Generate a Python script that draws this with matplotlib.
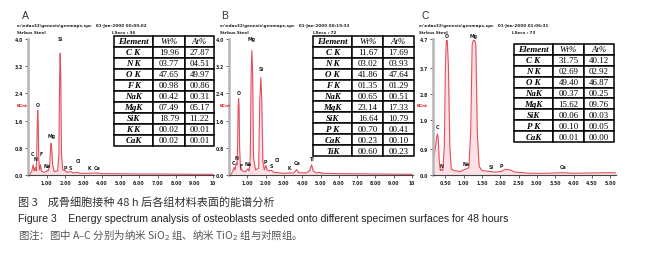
import matplotlib
matplotlib.use('Agg')
import matplotlib.pyplot as plt

W, H = 670, 255

# ---- spectrum data (keV, KCnt) ----
a_e = [0.10, 0.20, 0.277, 0.33, 0.39, 0.44, 0.47, 0.50, 0.525, 0.55, 0.58, 0.62, 0.677, 0.72, 0.85,
       1.00, 1.04, 1.10, 1.18, 1.22, 1.25, 1.28, 1.33, 1.42, 1.60, 1.67, 1.71, 1.74, 1.77, 1.81, 1.88,
       2.01, 2.10, 2.31, 2.45, 2.62, 2.80, 3.31, 3.69, 4.0, 5.0, 6.0, 7.0, 8.0, 9.0, 10.0]
a_c = [0.02, 0.10, 0.30, 0.12, 0.22, 0.12, 0.50, 1.50, 1.90, 1.50, 0.50, 0.15, 0.30, 0.12, 0.08,
       0.10, 0.14, 0.12, 0.35, 0.80, 0.93, 0.80, 0.30, 0.10, 0.12, 0.60, 2.90, 3.58, 2.90, 0.60, 0.15,
       0.12, 0.08, 0.10, 0.06, 0.08, 0.05, 0.05, 0.06, 0.04, 0.035, 0.03, 0.03, 0.025, 0.02, 0.02]

b_e = [0.10, 0.20, 0.277, 0.33, 0.39, 0.44, 0.47, 0.50, 0.525, 0.55, 0.58, 0.63, 0.677, 0.73, 0.90,
       1.04, 1.10, 1.16, 1.21, 1.25, 1.29, 1.34, 1.45, 1.62, 1.68, 1.74, 1.79, 1.85, 1.93, 2.01, 2.08,
       2.15, 2.31, 2.45, 2.62, 3.00, 3.31, 3.55, 3.69, 3.80, 4.20, 4.40, 4.51, 4.60, 4.75, 4.93, 5.10,
       6.0, 7.0, 8.0, 9.0, 10.0]
b_c = [0.02, 0.10, 0.22, 0.15, 0.35, 0.30, 0.90, 2.00, 2.25, 2.00, 0.80, 0.15, 0.20, 0.12, 0.10,
       0.18, 0.12, 0.50, 3.00, 3.66, 3.00, 0.50, 0.15, 0.20, 2.20, 2.87, 2.20, 0.40, 0.15, 0.28, 0.15,
       0.12, 0.14, 0.08, 0.07, 0.05, 0.06, 0.06, 0.16, 0.07, 0.06, 0.12, 0.30, 0.12, 0.06, 0.08, 0.05,
       0.04, 0.035, 0.03, 0.025, 0.02]

c_e = [0.16, 0.22, 0.26, 0.28, 0.30, 0.33, 0.36, 0.39, 0.43, 0.47, 0.50, 0.525, 0.55, 0.58, 0.62, 0.66,
       0.75, 0.90, 1.04, 1.08, 1.14, 1.19, 1.23, 1.26, 1.30, 1.33, 1.37, 1.42, 1.50, 1.74, 1.85, 2.01,
       2.15, 2.25, 2.40, 2.80, 3.30, 3.69, 4.00, 4.50, 5.00, 5.15]
c_c = [0.50, 0.90, 1.30, 1.42, 1.30, 0.50, 0.15, 0.20, 0.15, 1.00, 3.80, 4.65, 4.65, 3.80, 1.00, 0.20,
       0.15, 0.12, 0.20, 0.22, 0.25, 1.50, 4.50, 4.65, 4.65, 4.50, 1.50, 0.30, 0.15, 0.12, 0.10, 0.12,
       0.20, 0.18, 0.10, 0.06, 0.06, 0.08, 0.06, 0.07, 0.08, 0.07]

# peak labels: text, energy, height of label
a_lab = [('C', 0.26, 0.55), ('N', 0.40, 0.42), ('F', 0.69, 0.55), ('O', 0.525, 2.0), ('Na', 1.04, 0.2),
         ('Mg', 1.25, 1.1), ('Si', 1.74, 3.95), ('P', 2.01, 0.15), ('S', 2.31, 0.15), ('Cl', 2.70, 0.35),
         ('K', 3.31, 0.15), ('Ca', 3.75, 0.15)]
b_lab = [('C', 0.26, 0.3), ('N', 0.40, 0.45), ('F', 0.69, 0.22), ('O', 0.51, 2.35), ('Na', 1.04, 0.25),
         ('Mg', 1.25, 3.95), ('Si', 1.74, 3.06), ('P', 2.01, 0.32), ('S', 2.31, 0.2), ('Cl', 2.65, 0.38),
         ('K', 3.31, 0.15), ('Ca', 3.72, 0.3), ('Ti', 4.51, 0.42)]
c_lab = [('C', 0.28, 1.58), ('N', 0.39, 0.25), ('O', 0.53, 4.72), ('Na', 1.07, 0.3), ('Mg', 1.28, 4.72),
         ('Si', 1.76, 0.2), ('P', 2.03, 0.25), ('Ca', 3.72, 0.2)]

# ---- tables ----
a_elem = ['C K', 'N K', 'O K', 'F K', 'NaK', 'MgK', 'SiK', 'K K', 'CaK']
a_wt = ['19.96', '03.77', '47.65', '00.98', '00.42', '07.49', '18.79', '00.02', '00.02']
a_at = ['27.87', '04.51', '49.97', '00.86', '00.31', '05.17', '11.22', '00.01', '00.01']

b_elem = ['C K', 'N K', 'O K', 'F K', 'NaK', 'MgK', 'SiK', 'P K', 'CaK', 'TiK']
b_wt = ['11.67', '03.02', '41.86', '01.35', '00.65', '23.14', '16.64', '00.70', '00.23', '00.60']
b_at = ['17.69', '03.93', '47.64', '01.29', '00.51', '17.33', '10.79', '00.41', '00.10', '00.23']

c_elem = ['C K', 'N K', 'O K', 'NaK', 'MgK', 'SiK', 'P K', 'CaK']
c_wt = ['31.75', '02.69', '49.40', '00.37', '15.62', '00.06', '00.10', '00.01']
c_at = ['40.12', '02.92', '46.87', '00.25', '09.76', '00.03', '00.05', '00.00']

headers = ['Element', 'Wt%', 'At%']

a_yt = [0.0, 0.8, 1.6, 2.4, 3.2, 4.0]
c_yt = [0.0, 0.9, 1.9, 2.8, 3.7, 4.7]
ab_xt = [1, 2, 3, 4, 5, 6, 7, 8, 9, 10]
ab_xl = ['1.00', '2.00', '3.00', '4.00', '5.00', '6.00', '7.00', '8.00', '9.00', '10']
c_xt = [0.5, 1.0, 1.5, 2.0, 2.5, 3.0, 3.5, 4.0, 4.5, 5.0]
c_xl = ['0.50', '1.00', '1.50', '2.00', '2.50', '3.00', '3.50', '4.00', '4.50', '5.00']

fig = plt.figure(figsize=(W / 100, H / 100), dpi=100)


def box(x0, x1, y0, y1):
    return [x0 / W, 1 - y1 / H, (x1 - x0) / W, (y1 - y0) / H]


def spectrum(rect, e, c, labs, xlim, ylim, yt, xt, xl):
    ax = fig.add_axes(rect)
    ax.fill_between(e, c, 0, color='#fbe1e5', lw=0)
    ax.plot(e, c, color='#e2505e', lw=0.8)
    ax.set_xlim(*xlim)
    ax.set_ylim(*ylim)
    for s in ['top', 'right']:
        ax.spines[s].set_visible(False)
    ax.spines['left'].set_color('#b5b5b5')
    ax.spines['left'].set_linewidth(1.8)
    ax.spines['bottom'].set_color('#444444')
    ax.spines['bottom'].set_linewidth(0.8)
    ax.set_yticks(yt)
    ax.set_yticklabels(['%.1f' % v for v in yt])
    ax.set_xticks(xt)
    ax.set_xticklabels(xl)
    ax.tick_params(length=2, width=0.5, pad=1.5, labelsize=3.3, colors='#222222')
    for t in ax.get_xticklabels() + ax.get_yticklabels():
        t.set_fontweight('bold')
    for name, x, y in labs:
        ax.text(x, y, name, fontsize=3.4, fontweight='bold', ha='center', va='bottom',
                color='#222222', clip_on=False)
    return ax


def table(rect, elem, wt, at, widths):
    ax = fig.add_axes(rect)
    ax.axis('off')
    rows = [[e, w, a] for e, w, a in zip(elem, wt, at)]
    tb = ax.table(cellText=rows, colLabels=headers, bbox=[0, 0, 1, 1], cellLoc='center',
                  colWidths=widths)
    tb.auto_set_font_size(False)
    for (r, col), cell in tb.get_celld().items():
        cell.set_linewidth(1.1)
        cell.set_edgecolor('black')
        txt = cell.get_text()
        txt.set_fontfamily('Liberation Serif')
        txt.set_fontsize(6.4)
        if r == 0 or col == 0:
            txt.set_fontstyle('italic')
        if col == 0:
            txt.set_fontweight('bold')


spectrum(box(28, 214, 40, 176), a_e, a_c, a_lab, (0, 10.05), (0, 4.0), a_yt, ab_xt, ab_xl)
spectrum(box(229, 413, 40, 176), b_e, b_c, b_lab, (0, 10.05), (0, 4.0), a_yt, ab_xt, ab_xl)
spectrum(box(433, 616, 40, 176), c_e, c_c, c_lab, (0.16, 5.16), (0, 4.7), c_yt, c_xt, c_xl)

table(box(114, 214, 37, 147), a_elem, a_wt, a_at, [0.39, 0.32, 0.29])
table(box(313, 414, 37, 157), b_elem, b_wt, b_at, [0.39, 0.305, 0.305])
table(box(514, 614, 45, 143), c_elem, c_wt, c_at, [0.39, 0.31, 0.30])

# panel letters and EDAX headers
hdr = [('A', 22, 17, '00:09:02', 112, '36'),
       ('B', 221, 220, '00:19:33', 313, '72'),
       ('C', 422, 419, '01:06:31', 512, '73')]
for letter, lx, hx, tm, sx, ls in hdr:
    fig.text(lx / W, 1 - 16 / H, letter, fontsize=7.5, color='#333333', va='center',
             family='Liberation Sans')
    fig.text(hx / W, 1 - 26 / H, 'e:\\edax32\\genesis\\genmaps.spc   01-Jan-2000 ' + tm,
             fontsize=3.0, fontweight='bold', color='#222222', va='center')
    fig.text(hx / W, 1 - 32.5 / H, 'Strbus Steel', fontsize=3.0, fontweight='bold',
             color='#222222', va='center')
    fig.text(sx / W, 1 - 32.5 / H, 'LSecs : ' + ls, fontsize=3.0, fontweight='bold',
             color='#222222', va='center')
    fig.text((hx + (-2 if letter == 'C' else 0)) / W, 1 - 106 / H, 'KCnt', fontsize=3.0,
             fontweight='bold', color='#e02020', va='center')

cjk = ['Noto Sans CJK SC', 'DejaVu Sans']
fig.text(18 / W, 1 - 202 / H, '图 3    成骨细胞接种 48 h 后各组材料表面的能谱分析', fontsize=8,
         family=cjk, color='#333333', va='center')
fig.text(18 / W, 1 - 219 / H,
         'Figure 3    Energy spectrum analysis of osteoblasts seeded onto different specimen surfaces for 48 hours',
         fontsize=7.6, family='Liberation Sans', color='#222222', va='center')
fig.text(18 / W, 1 - 236 / H, '图注：图中 A–C 分别为纳米 SiO$_2$ 组、纳米 TiO$_2$ 组与对照组。', fontsize=7.5,
         family=cjk, color='#555555', va='center')

fig.savefig('out.png', dpi=100)
